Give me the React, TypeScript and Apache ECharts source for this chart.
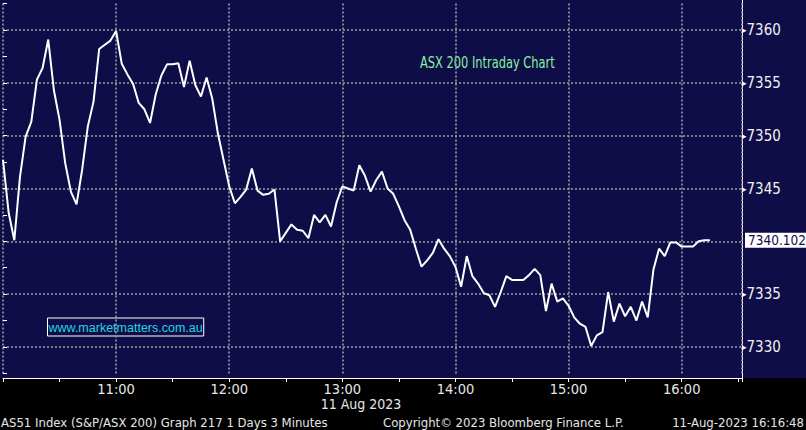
import React, { useEffect, useRef } from "react";
import * as echarts from "echarts";

// ---- data ----
const SESSION_START_HOUR = 10; // first bar 10:00
const STEP_MINUTES = 3; // 3-minute bars
const PRICES: number[] = [
  7347.7, 7342.7, 7340.1, 7346.1, 7349.9, 7351.3, 7355.3, 7356.4, 7359.1, 7354.3,
  7351.5, 7347.4, 7344.7, 7343.5, 7346.8, 7350.9, 7353.2, 7358.2, 7358.6, 7359.0,
  7359.9, 7356.8, 7355.8, 7354.9, 7353.1, 7352.5, 7351.2, 7353.9, 7355.7, 7356.75,
  7356.75, 7356.85, 7354.6, 7357.1, 7354.8, 7353.7, 7355.5, 7353.5, 7350.2, 7347.7,
  7345.2, 7343.6, 7344.2, 7344.9, 7346.9, 7344.8, 7344.4, 7344.5, 7344.9, 7340.0,
  7340.8, 7341.6, 7341.1, 7341.0, 7340.3, 7342.5, 7341.8, 7342.5, 7341.4, 7343.7,
  7345.2, 7345.0, 7344.8, 7347.2, 7346.2, 7344.7, 7345.8, 7346.6, 7345.0, 7344.5,
  7343.3, 7342.0, 7341.1, 7339.3, 7337.6, 7338.2, 7338.9, 7340.2, 7339.3, 7338.6,
  7337.6, 7335.7, 7338.6, 7336.7, 7336.0, 7335.1, 7334.9, 7333.8, 7335.2, 7336.7,
  7336.35, 7336.35, 7336.35, 7336.8, 7337.4, 7336.8, 7333.4, 7336.0, 7334.3, 7334.6,
  7333.9, 7332.8, 7332.2, 7331.9, 7330.1, 7331.1, 7331.4, 7335.2, 7332.4, 7334.1,
  7332.9, 7333.8, 7332.5, 7334.3, 7332.8, 7337.3, 7339.3, 7338.6, 7339.9, 7339.9,
  7339.5, 7339.5, 7339.5, 7340.0, 7340.1, 7340.102,
];
const LAST_PRICE_TEXT = "7340.102";
const Y_MIN = 7327.5;
const Y_MAX = 7362.5;
const Y_STEP = 2.5;
const Y_LABEL_STEP = 5;
const X_MAX_MINUTES = 392; // right edge ~16:32
const X_TICK_MINUTES = 30;

const TITLE_TEXT = "ASX 200 Intraday Chart";
const WATERMARK_TEXT = "www.marketmatters.com.au";
const DATE_TEXT = "11 Aug 2023";
const FOOTER_LEFT = "AS51 Index (S&P/ASX 200) Graph 217 1 Days 3 Minutes";
const FOOTER_MID = "Copyright\u00a9 2023 Bloomberg Finance L.P.";
const FOOTER_RIGHT = "11-Aug-2023 16:16:48";

const NARROW = '"Liberation Sans Narrow", "Arial Narrow", "DejaVu Sans Condensed", sans-serif';
const NAVY = "#0f0d47";
const GRID_GRAY = "#9c9ca6";

export default function App() {
  const ref = useRef<HTMLDivElement>(null);

  useEffect(() => {
    if (!ref.current) return;
    const chart = echarts.init(ref.current, null, { renderer: "svg" });
    const seriesData = PRICES.map((p, i) => [i * STEP_MINUTES, p]);
    const lastPrice = PRICES[PRICES.length - 1];

    chart.setOption({
      animation: false,
      backgroundColor: "transparent",
      grid: { left: 0, top: 3.6, width: 742, height: 369.8, containLabel: false },
      xAxis: {
        type: "value",
        min: 0,
        max: X_MAX_MINUTES,
        interval: X_TICK_MINUTES,
        offset: 4.6,
        axisLine: { show: true, lineStyle: { color: "#ffffff", width: 1 } },
        axisTick: { show: true, length: 4, lineStyle: { color: "#ffffff" } },
        axisLabel: {
          show: true,
          margin: 3,
          color: "#e6e6e6",
          fontFamily: NARROW,
          fontSize: 14.5,
          formatter: (v: number) =>
            v > 0 && v % 60 === 0 && v < X_MAX_MINUTES ? `${SESSION_START_HOUR + v / 60}:00` : "",
        },
        splitLine: {
          show: true,
          lineStyle: { color: [GRID_GRAY, "rgba(0,0,0,0)"], width: 1.6, type: [2, 2] },
        },
      },
      yAxis: {
        type: "value",
        position: "right",
        min: Y_MIN,
        max: Y_MAX,
        interval: Y_STEP,
        axisLine: { show: false },
        axisTick: { show: true, inside: false, length: 4, lineStyle: { color: "#ffffff" } },
        axisLabel: {
          show: true,
          margin: 0,
          color: "#f0f0f0",
          fontFamily: NARROW,
          fontSize: 15,
          formatter: (v: number) =>
            v % Y_LABEL_STEP === 0 && Math.abs(v - lastPrice) > 1 ? `{t|\u25B8}{v|${v}}` : "",
          rich: {
            t: { fontSize: 9, color: "#ffffff", fontFamily: "DejaVu Sans", padding: [0, 0, 0, 0] },
            v: { fontSize: 15, color: "#f0f0f0", fontFamily: NARROW },
          },
        },
        splitLine: {
          show: true,
          lineStyle: { color: ["rgba(0,0,0,0)", GRID_GRAY], width: 1.6, type: [2, 2] },
        },
      },
      series: [
        {
          type: "line",
          data: seriesData,
          showSymbol: false,
          symbol: "none",
          lineStyle: { color: "#ffffff", width: 2 },
          z: 5,
          markLine: {
            silent: true,
            symbol: "none",
            lineStyle: { color: "rgba(0,0,0,0)", width: 0 },
            data: [{ yAxis: lastPrice }],
            label: {
              show: true,
              position: "end",
              distance: 3,
              formatter: LAST_PRICE_TEXT,
              backgroundColor: "#ffffff",
              color: "#0f0d47",
              fontFamily: NARROW,
              fontSize: 13.5,
              padding: [1, 2, 0, 3],
            },
          },
        },
      ],
      graphic: [
        {
          type: "text",
          x: 420,
          y: 63,
          scaleX: 0.82,
          style: {
            text: TITLE_TEXT,
            fill: "#86f29e",
            font: `15.5px ${NARROW}`,
            align: "left",
            verticalAlign: "middle",
          },
        },
        {
          type: "text",
          x: 47.5,
          y: 318,
          style: {
            text: WATERMARK_TEXT,
            fill: "#22d6e4",
            font: '12.5px "Liberation Sans", Arial, sans-serif',
            align: "left",
            verticalAlign: "top",
            borderColor: "#ffffff",
            borderWidth: 1,
            padding: [3, 1, 2, 1],
          },
        },
        {
          type: "text",
          x: 361,
          y: 404,
          style: { text: DATE_TEXT, fill: "#e6e6e6", font: `14px ${NARROW}`, align: "center", verticalAlign: "middle" },
        },
        {
          type: "text",
          x: 1,
          y: 422,
          style: { text: FOOTER_LEFT, fill: "#e6e6e6", font: `13px ${NARROW}`, align: "left", verticalAlign: "middle" },
        },
        {
          type: "text",
          x: 383,
          y: 422,
          style: { text: FOOTER_MID, fill: "#e6e6e6", font: `13px ${NARROW}`, align: "left", verticalAlign: "middle" },
        },
        {
          type: "text",
          x: 804,
          y: 422,
          style: { text: FOOTER_RIGHT, fill: "#e6e6e6", font: `13px ${NARROW}`, align: "right", verticalAlign: "middle" },
        },
      ],
    });
    return () => chart.dispose();
  }, []);

  return (
    <div style={{ position: "fixed", left: 0, top: 0, width: 806, height: 430, background: "#000000", overflow: "hidden" }}>
      <div style={{ position: "absolute", left: 0, top: 0, width: 806, height: 378, background: NAVY }} />
      <div style={{ position: "absolute", left: 742, top: 0, width: 1, height: 378, background: "#ffffff" }} />
      <div ref={ref} style={{ position: "absolute", left: 0, top: 0, width: 806, height: 430 }} />
    </div>
  );
}
